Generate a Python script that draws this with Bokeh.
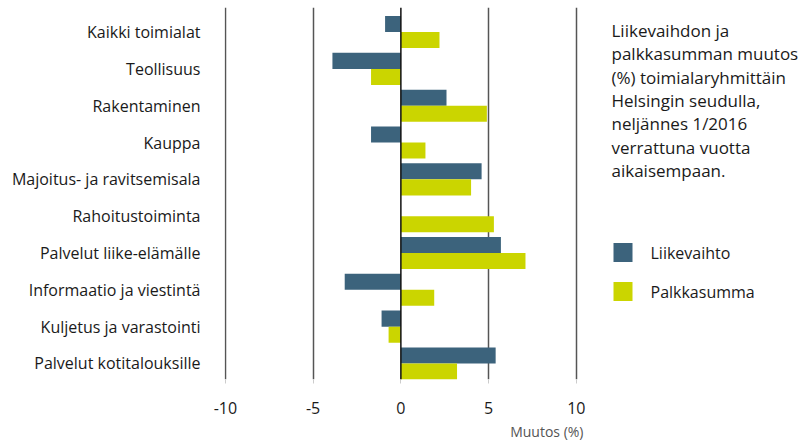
from bokeh.plotting import figure
from bokeh.models import Range1d, FixedTicker, Span, Label, ColumnDataSource, Title
from bokeh.embed import file_html
from bokeh.resources import INLINE

categories = ["Kaikki toimialat", "Teollisuus", "Rakentaminen", "Kauppa",
              "Majoitus- ja ravitsemisala", "Rahoitustoiminta",
              "Palvelut liike-elämälle", "Informaatio ja viestintä",
              "Kuljetus ja varastointi", "Palvelut kotitalouksille"]
liikevaihto = [-0.9, -3.9, 2.6, -1.7, 4.6, 0.0, 5.7, -3.2, -1.1, 5.4]
palkkasumma = [2.2, -1.7, 4.9, 1.4, 4.0, 5.3, 7.1, 1.9, -0.7, 3.2]
x_ticks = [-10, -5, 0, 5, 10]
x_tick_labels = ["-10", "-5", "0", "5", "10"]
series_names = ["Liikevaihto", "Palkkasumma"]
colors = ["#3C637C", "#CBD500"]
note_lines = ["Liikevaihdon ja", "palkkasumman muutos", "(%) toimialaryhmittäin",
              "Helsingin seudulla,", "neljännes 1/2016", "verrattuna vuotta",
              "aikaisempaan."]
FONT = "Open Sans"

W, H = 805, 445
TOP = 7
BL = 224
FRAME_BOTTOM = 379
BB = H - FRAME_BOTTOM
UX = 17.55
x0 = -10.05
x1 = x0 + (W - BL) / UX
ytop_pad = 0.667
bar_h = 0.436
y_lo = len(categories) - 1 + bar_h
UY = (FRAME_BOTTOM - TOP) / (y_lo + ytop_pad)

p = figure(width=W, height=H, output_backend="svg", toolbar_location=None,
           x_range=Range1d(x0, x1), y_range=Range1d(y_lo, -ytop_pad),
           min_border_left=BL, min_border_bottom=BB, min_border_top=TOP,
           min_border_right=0)
p.outline_line_color = None
p.background_fill_color = "white"
p.border_fill_color = "white"

idx = list(range(len(categories)))
src = ColumnDataSource(dict(
    yl=[i - bar_h / 2 for i in idx], yp=[i + bar_h / 2 for i in idx],
    l=liikevaihto, pk=palkkasumma))
p.hbar(y="yl", left=0, right="l", height=bar_h, source=src,
       fill_color=colors[0], line_color=None)
p.hbar(y="yp", left=0, right="pk", height=bar_h, source=src,
       fill_color=colors[1], line_color=None)

# grid
p.ygrid.grid_line_color = None
p.xgrid.ticker = FixedTicker(ticks=[t for t in x_ticks if t != 0])
p.xgrid.grid_line_color = "#555555"
p.xgrid.grid_line_width = 1.5
p.add_layout(Span(location=0, dimension="height", line_color="#111111",
                  line_width=1.5))

# x axis
p.xaxis.ticker = FixedTicker(ticks=x_ticks)
p.xaxis.major_label_overrides = dict(zip(x_ticks, x_tick_labels))
p.xaxis.axis_line_color = None
p.xaxis.major_tick_line_color = "#cccccc"
p.xaxis.major_tick_in = 0
p.xaxis.major_tick_out = 4
p.xaxis.minor_tick_line_color = None
p.xaxis.major_label_text_font = FONT
p.xaxis.major_label_text_font_size = "16px"
p.xaxis.major_label_text_color = "#1a1a1a"
p.xaxis.major_label_standoff = 18

# y axis
p.yaxis.ticker = FixedTicker(ticks=idx)
p.yaxis.major_label_overrides = {i: c for i, c in enumerate(categories)}
p.yaxis.axis_line_color = None
p.yaxis.major_tick_line_color = None
p.yaxis.minor_tick_line_color = None
p.yaxis.major_label_text_font = FONT
p.yaxis.major_label_text_font_size = "16px"
p.yaxis.major_label_text_color = "#1a1a1a"
p.yaxis.major_label_standoff = 18


def ypx(px):
    return -ytop_pad + (px - TOP) / UY


def xpx(px):
    return x0 + (px - BL) / UX


# axis title
p.add_layout(Title(text="Muutos (%)", align="right", offset=(W - 583),
                   text_font=FONT, text_font_size="14px",
                   text_font_style="normal", text_color="#555555",
                   standoff=7), "below")

# note
for k, line in enumerate(note_lines):
    p.add_layout(Label(x=xpx(611), y=ypx(30 + k * 23.3), text=line,
                       text_font=FONT, text_font_size="17px",
                       text_color="#1a1a1a", text_baseline="middle"))

# legend
leg_y = [252, 291]
p.scatter(x=[xpx(622.5)] * 2, y=[ypx(v) for v in leg_y], marker="square",
          size=19, fill_color=colors, line_color=None)
for name, yy in zip(series_names, leg_y):
    p.add_layout(Label(x=xpx(650), y=ypx(yy), text=name, text_font=FONT,
                       text_font_size="16px", text_color="#1a1a1a",
                       text_baseline="middle"))

open("out.html", "w").write(file_html(p, INLINE))
